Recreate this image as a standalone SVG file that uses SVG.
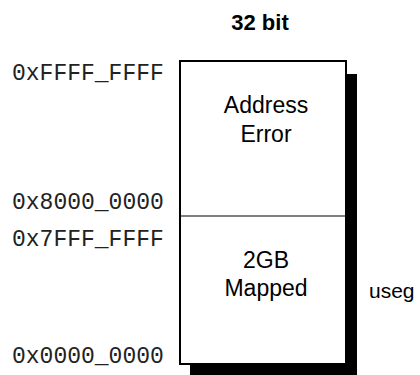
<svg xmlns="http://www.w3.org/2000/svg" width="420" height="375" viewBox="0 0 420 375">
<style>
.mono{font-family:"Liberation Mono","Courier New",monospace;font-size:23px;fill:#222}
.lbl{font-family:"Liberation Sans",Arial,sans-serif;font-size:23px;fill:#000;text-anchor:middle}
.title{font-family:"Liberation Sans",Arial,sans-serif;font-size:22px;font-weight:bold;fill:#000;text-anchor:middle}
.side{font-family:"Liberation Sans",Arial,sans-serif;font-size:21px;fill:#000}
</style>
<rect width="420" height="375" fill="#fff"/>
<text class="title" x="260" y="30">32 bit</text>
<g id="memory">
<rect x="190" y="74" width="167" height="310" fill="#000"/>
<rect x="180" y="61" width="166" height="303" fill="#fff" stroke="#000" stroke-width="2"/>
</g>
<g id="kseg">
<text class="lbl" x="266" y="113">Address</text>
<text class="lbl" x="266" y="142">Error</text>
</g>
<g id="connectors">
<line x1="180" y1="216" x2="346" y2="216" stroke="#000" stroke-width="1.2"/>
</g>
<g id="useg">
<text class="lbl" x="266" y="268">2GB</text>
<text class="lbl" x="266" y="296">Mapped</text>
<text class="side" x="369" y="298">useg</text>
</g>
<g id="addresses">
<text class="mono" x="12" y="80">0xFFFF_FFFF</text>
<text class="mono" x="12" y="209">0x8000_0000</text>
<text class="mono" x="12" y="246">0x7FFF_FFFF</text>
<text class="mono" x="12" y="363">0x0000_0000</text>
</g>
</svg>
